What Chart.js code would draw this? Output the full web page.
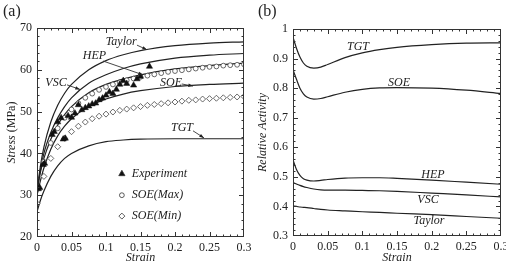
<!DOCTYPE html>
<html>
<head>
<meta charset="utf-8">
<script src="https://cdn.jsdelivr.net/npm/chart.js@4.4.1/dist/chart.umd.min.js"></script>
<style>
  html, body { margin: 0; padding: 0; background: #fff; }
  #wrap { position: relative; width: 506px; height: 267px; overflow: hidden; }
  canvas { position: absolute; top: 0; }
  #chartA { left: 0; }
  #chartB { left: 253px; }
</style>
</head>
<body>
<div id="wrap">
  <canvas id="chartA" width="253" height="267"></canvas>
  <canvas id="chartB" width="253" height="267"></canvas>
</div>
<script>
// ---- panel (a): stress vs strain ----
const strainA = [0, 0.005, 0.01, 0.02, 0.03, 0.04, 0.05, 0.075, 0.1, 0.125, 0.15, 0.2, 0.25, 0.3];
const taylorA = [31, 37, 41.5, 47.5, 51.5, 54.4, 56.5, 60, 62.2, 63.6, 64.6, 65.8, 66.4, 66.7];
const vscA    = [31, 36, 40, 45, 48.5, 51.2, 53.3, 56.8, 58.8, 60.3, 61.4, 62.8, 63.5, 63.9];
const hepA    = [31, 35.5, 38.8, 43.4, 46.8, 49.3, 51.2, 54.5, 56.5, 57.8, 58.8, 60.2, 61.0, 61.6];
const soeA    = [30, 33.5, 36.5, 41, 44.2, 46.5, 48.3, 51.2, 53, 54.2, 55, 56, 56.5, 56.8];
const tgtA    = [26, 28.8, 31, 34.5, 37, 38.8, 40, 41.8, 42.8, 43.2, 43.4, 43.5, 43.5, 43.5];

const strainMarks = [0, 0.01, 0.02, 0.03, 0.04, 0.05, 0.06, 0.07, 0.08, 0.09, 0.1,
  0.11, 0.12, 0.13, 0.14, 0.15, 0.16, 0.17, 0.18, 0.19, 0.2,
  0.21, 0.22, 0.23, 0.24, 0.25, 0.26, 0.27, 0.28, 0.29, 0.3];
const soeMax = [31.5, 38, 42.5, 46, 48.5, 50.5, 52, 53.3, 54.3, 55.2, 55.9,
  56.5, 57, 57.5, 57.9, 58.3, 58.6, 58.9, 59.2, 59.5, 59.7,
  59.9, 60.1, 60.3, 60.5, 60.7, 60.8, 61, 61.1, 61.2, 61.3];
const soeMin = [28, 34.5, 38.8, 41.6, 43.6, 45.2, 46.5, 47.5, 48.3, 48.9, 49.4,
  49.9, 50.3, 50.6, 50.9, 51.2, 51.5, 51.7, 51.9, 52.1, 52.3,
  52.5, 52.7, 52.8, 53, 53.1, 53.2, 53.3, 53.4, 53.5, 53.6];

const expStrain = [0.002, 0.004, 0.009, 0.011, 0.022, 0.025, 0.03, 0.035, 0.038, 0.041, 0.045, 0.05,
  0.055, 0.06, 0.065, 0.07, 0.075, 0.08, 0.085, 0.09, 0.095, 0.1, 0.105, 0.11, 0.115,
  0.12, 0.125, 0.13, 0.14, 0.145, 0.15, 0.163];
const expStress = [31.5, 31.8, 37.3, 37.6, 44.5, 45.2, 47.5, 48.5, 43.4, 43.6, 49.0, 48.6,
  49.6, 51.6, 50.4, 50.9, 51.3, 51.8, 52.0, 52.8, 53.2, 53.9, 54.7, 54.3, 55.3,
  56.5, 57.4, 56.7, 56.3, 57.8, 58.4, 60.8];

const xTicksA = [0, 0.05, 0.1, 0.15, 0.2, 0.25, 0.3];
const xLabelsA = ['0', '0.05', '0.1', '0.15', '0.2', '0.25', '0.3'];
const yTicksA = [20, 30, 40, 50, 60, 70];
const yLabelsA = ['20', '30', '40', '50', '60', '70'];

// ---- panel (b): relative activity vs strain ----
const strainB = [0, 0.005, 0.01, 0.015, 0.02, 0.03, 0.04, 0.05, 0.075, 0.1, 0.125, 0.15, 0.2, 0.25, 0.3];
const tgtB    = [0.972, 0.935, 0.905, 0.885, 0.874, 0.868, 0.871, 0.88, 0.903, 0.919, 0.93, 0.938, 0.947, 0.952, 0.953];
const soeB    = [0.862, 0.83, 0.8, 0.781, 0.77, 0.763, 0.765, 0.771, 0.786, 0.796, 0.801, 0.802, 0.8, 0.793, 0.782];
const hepB    = [0.558, 0.525, 0.505, 0.494, 0.489, 0.486, 0.488, 0.491, 0.496, 0.497, 0.497, 0.495, 0.489, 0.482, 0.475];
const vscB    = [0.481, 0.476, 0.471, 0.467, 0.464, 0.459, 0.456, 0.455, 0.455, 0.454, 0.453, 0.451, 0.445, 0.439, 0.432];
const taylorB = [0.401, 0.4, 0.398, 0.397, 0.396, 0.393, 0.39, 0.388, 0.385, 0.382, 0.38, 0.377, 0.372, 0.366, 0.36];

const xTicksB = [0, 0.05, 0.1, 0.15, 0.2, 0.25, 0.3];
const xLabelsB = ['0', '0.05', '0.1', '0.15', '0.2', '0.25', '0.3'];
const yTicksB = [0.3, 0.4, 0.5, 0.6, 0.7, 0.8, 0.9, 1];
const yLabelsB = ['0.3', '0.4', '0.5', '0.6', '0.7', '0.8', '0.9', '1'];

const SERIF = '"Liberation Serif", "DejaVu Serif", "Times New Roman", serif';
const INK = '#222';

function pts(xs, ys) {
  return xs.map((x, i) => ({ x, y: ys[i] }));
}

function curve(xs, ys) {
  return {
    data: pts(xs, ys),
    borderColor: INK,
    borderWidth: 1.2,
    pointRadius: 0,
    fill: false,
    cubicInterpolationMode: 'monotone',
  };
}

// fixed tick positions and labels from the arrays
function fixedTicks(values, labels) {
  return {
    afterBuildTicks(s) { s.ticks = values.map((v) => ({ value: v })); },
    ticksCallback(v, i) { return labels[i]; },
  };
}

function axes(o) {
  const tick = { family: SERIF, size: 12 };
  const xt = fixedTicks(o.xTicks, o.xLabels);
  const yt = fixedTicks(o.yTicks, o.yLabels);
  return {
    x: {
      type: 'linear', min: o.xMin, max: o.xMax,
      grid: { display: false, drawTicks: false }, border: { display: false },
      ticks: { autoSkip: false, maxRotation: 0, padding: 4, color: INK, font: tick, callback: xt.ticksCallback },
      afterBuildTicks: xt.afterBuildTicks,
      afterFit(s) { s.height = o.xHeight; s.paddingLeft = 0; s.paddingRight = 0; },
    },
    y: {
      type: 'linear', min: o.yMin, max: o.yMax,
      grid: { display: false, drawTicks: false }, border: { display: false },
      ticks: { autoSkip: false, padding: 5, color: INK, font: tick, callback: yt.ticksCallback },
      afterBuildTicks: yt.afterBuildTicks,
      afterFit(s) { s.width = o.yWidth; s.paddingTop = 0; s.paddingBottom = 0; },
    },
  };
}

/**
 * Frame, inward ticks on all sides, axis titles, panel tag, notes
 */
const decor = {
  id: 'decor',
  afterDatasetsDraw(chart, args, o) {
    const { ctx, chartArea: a, scales: { x, y } } = chart;
    ctx.save();
    ctx.strokeStyle = '#333';
    ctx.lineWidth = 1;
    ctx.strokeRect(a.left + 0.5, a.top + 0.5, a.right - a.left - 1, a.bottom - a.top - 1);

    // x ticks (bottom + top)
    const nx = Math.round((x.max - x.min) / o.xMinor);
    const kx = Math.round(o.xMajor / o.xMinor);
    ctx.beginPath();
    for (let i = 1; i < nx; i++) {
      const px = Math.round(x.getPixelForValue(x.min + i * o.xMinor)) + 0.5;
      const len = i % kx === 0 ? 5 : 2.5;
      ctx.moveTo(px, a.bottom); ctx.lineTo(px, a.bottom - len);
      ctx.moveTo(px, a.top); ctx.lineTo(px, a.top + len);
    }
    // y ticks (left + right)
    const ny = Math.round((y.max - y.min) / o.yMinor);
    const ky = Math.round(o.yMajor / o.yMinor);
    for (let i = 1; i < ny; i++) {
      const py = Math.round(y.getPixelForValue(y.min + i * o.yMinor)) + 0.5;
      const len = i % ky === 0 ? 5 : 2.5;
      ctx.moveTo(a.left, py); ctx.lineTo(a.left + len, py);
      ctx.moveTo(a.right, py); ctx.lineTo(a.right - len, py);
    }
    ctx.stroke();

    ctx.fillStyle = INK;
    ctx.textBaseline = 'middle';

    // panel tag
    ctx.font = '16px ' + SERIF;
    ctx.textAlign = 'left';
    ctx.fillText(o.tag, o.tagX, 12);

    // x title
    ctx.font = 'italic 12px ' + SERIF;
    ctx.textAlign = 'center';
    ctx.fillText('Strain', (a.left + a.right) / 2, 258);

    // y title (italic part + normal part)
    ctx.save();
    ctx.translate(o.yTitleX, (a.top + a.bottom) / 2);
    ctx.rotate(-Math.PI / 2);
    ctx.font = 'italic 12px ' + SERIF;
    const w1 = ctx.measureText(o.yTitle[0]).width;
    ctx.font = '12px ' + SERIF;
    const w2 = o.yTitle[1] ? ctx.measureText(o.yTitle[1]).width : 0;
    let sx = -(w1 + w2) / 2;
    ctx.textAlign = 'left';
    ctx.font = 'italic 12px ' + SERIF;
    ctx.fillText(o.yTitle[0], sx, 0);
    if (o.yTitle[1]) {
      ctx.font = '12px ' + SERIF;
      ctx.fillText(o.yTitle[1], sx + w1, 0);
    }
    ctx.restore();

    // curve labels, optional arrows
    ctx.font = 'italic 12px ' + SERIF;
    ctx.textAlign = 'center';
    (o.notes || []).forEach((n) => {
      ctx.fillText(n.text, x.getPixelForValue(n.at[0]), y.getPixelForValue(n.at[1]));
      if (!n.arrow) return;
      const x0 = x.getPixelForValue(n.arrow[0]), y0 = y.getPixelForValue(n.arrow[1]);
      const x1 = x.getPixelForValue(n.arrow[2]), y1 = y.getPixelForValue(n.arrow[3]);
      ctx.beginPath();
      ctx.moveTo(x0, y0); ctx.lineTo(x1, y1);
      ctx.lineWidth = 0.9;
      ctx.stroke();
      const ang = Math.atan2(y1 - y0, x1 - x0);
      ctx.beginPath();
      ctx.moveTo(x1, y1);
      ctx.lineTo(x1 - 5 * Math.cos(ang - 0.35), y1 - 5 * Math.sin(ang - 0.35));
      ctx.lineTo(x1 - 5 * Math.cos(ang + 0.35), y1 - 5 * Math.sin(ang + 0.35));
      ctx.closePath();
      ctx.fill();
    });

    // in-plot legend
    (o.legend || []).forEach((r) => {
      const px = x.getPixelForValue(o.legendAt[0]);
      const py = y.getPixelForValue(r.y);
      ctx.lineWidth = 0.8;
      ctx.fillStyle = r.fill;
      ctx.strokeStyle = '#333';
      Chart.helpers.drawPoint(ctx, { pointStyle: r.style, radius: r.radius, rotation: 0, borderWidth: 0.8 }, px, py);
      ctx.fillStyle = INK;
      ctx.textAlign = 'left';
      ctx.fillText(r.text, px + 10, py);
    });
    ctx.restore();
  },
};

const base = {
  responsive: false,
  animation: false,
  devicePixelRatio: 1,
  events: [],
};

// ---- chart (a) ----
new Chart(document.getElementById('chartA'), {
  type: 'scatter',
  data: {
    datasets: [
      {
        data: pts(expStrain, expStress), showLine: false,
        pointStyle: 'triangle', pointRadius: 3.6,
        backgroundColor: '#111', borderColor: '#111', borderWidth: 0.5,
      },
      {
        data: pts(strainMarks, soeMax), showLine: false,
        pointStyle: 'circle', pointRadius: 2.4,
        backgroundColor: '#fff', borderColor: '#444', borderWidth: 0.8,
      },
      {
        data: pts(strainMarks, soeMin), showLine: false,
        pointStyle: 'rectRot', pointRadius: 3,
        backgroundColor: '#fff', borderColor: '#444', borderWidth: 0.8,
      },
      Object.assign(curve(strainA, taylorA), { showLine: true }),
      Object.assign(curve(strainA, vscA), { showLine: true }),
      Object.assign(curve(strainA, hepA), { showLine: true }),
      Object.assign(curve(strainA, soeA), { showLine: true }),
      Object.assign(curve(strainA, tgtA), { showLine: true }),
    ],
  },
  options: Object.assign({}, base, {
    layout: { padding: { top: 28, right: 9, left: 0, bottom: 0 } },
    scales: axes({
      xMin: 0, xMax: 0.3, yMin: 20, yMax: 70,
      xTicks: xTicksA, xLabels: xLabelsA, yTicks: yTicksA, yLabels: yLabelsA,
      xHeight: 30, yWidth: 37,
    }),
    plugins: {
      legend: { display: false },
      tooltip: { enabled: false },
      decor: {
        tag: '(a)', tagX: 3,
        xMajor: 0.05, xMinor: 0.01, yMajor: 10, yMinor: 2,
        yTitle: ['Stress ', '(MPa)'], yTitleX: 12,
        notes: [
          { text: 'Taylor', at: [0.122, 66.7], arrow: [0.1449, 65.9, 0.1594, 64.8] },
          { text: 'HEP', at: [0.0833, 63.3], arrow: [0.0957, 62.1, 0.1536, 58.8] },
          { text: 'VSC', at: [0.0275, 56.8], arrow: [0.0435, 56.4, 0.0623, 55.3] },
          { text: 'SOE', at: [0.1942, 56.8], arrow: [0.2101, 56.6, 0.2261, 56.1] },
          { text: 'TGT', at: [0.2101, 46.1], arrow: [0.2261, 45.4, 0.242, 43.7] },
        ],
        legendAt: [0.123],
        legend: [
          { y: 35.1, style: 'triangle', radius: 3.6, fill: '#111', text: 'Experiment' },
          { y: 30.0, style: 'circle', radius: 2.4, fill: '#fff', text: 'SOE(Max)' },
          { y: 25.0, style: 'rectRot', radius: 3, fill: '#fff', text: 'SOE(Min)' },
        ],
      },
    },
  }),
  plugins: [decor],
});

// ---- chart (b) ----
new Chart(document.getElementById('chartB'), {
  type: 'scatter',
  data: {
    datasets: [
      Object.assign(curve(strainB, tgtB), { showLine: true }),
      Object.assign(curve(strainB, soeB), { showLine: true }),
      Object.assign(curve(strainB, hepB), { showLine: true }),
      Object.assign(curve(strainB, vscB), { showLine: true }),
      Object.assign(curve(strainB, taylorB), { showLine: true }),
    ],
  },
  options: Object.assign({}, base, {
    layout: { padding: { top: 29, right: 5, left: 0, bottom: 0 } },
    scales: axes({
      xMin: 0, xMax: 0.3, yMin: 0.3, yMax: 1,
      xTicks: xTicksB, xLabels: xLabelsB, yTicks: yTicksB, yLabels: yLabelsB,
      xHeight: 31, yWidth: 40,
    }),
    plugins: {
      legend: { display: false },
      tooltip: { enabled: false },
      decor: {
        tag: '(b)', tagX: 5,
        xMajor: 0.05, xMinor: 0.01, yMajor: 0.1, yMinor: 0.02,
        yTitle: ['Relative Activity'], yTitleX: 10,
        notes: [
          { text: 'TGT', at: [0.0938, 0.939] },
          { text: 'SOE', at: [0.1529, 0.817] },
          { text: 'HEP', at: [0.2019, 0.506] },
          { text: 'VSC', at: [0.1947, 0.422] },
          { text: 'Taylor', at: [0.1962, 0.351] },
        ],
      },
    },
  }),
  plugins: [decor],
});
</script>
</body>
</html>
